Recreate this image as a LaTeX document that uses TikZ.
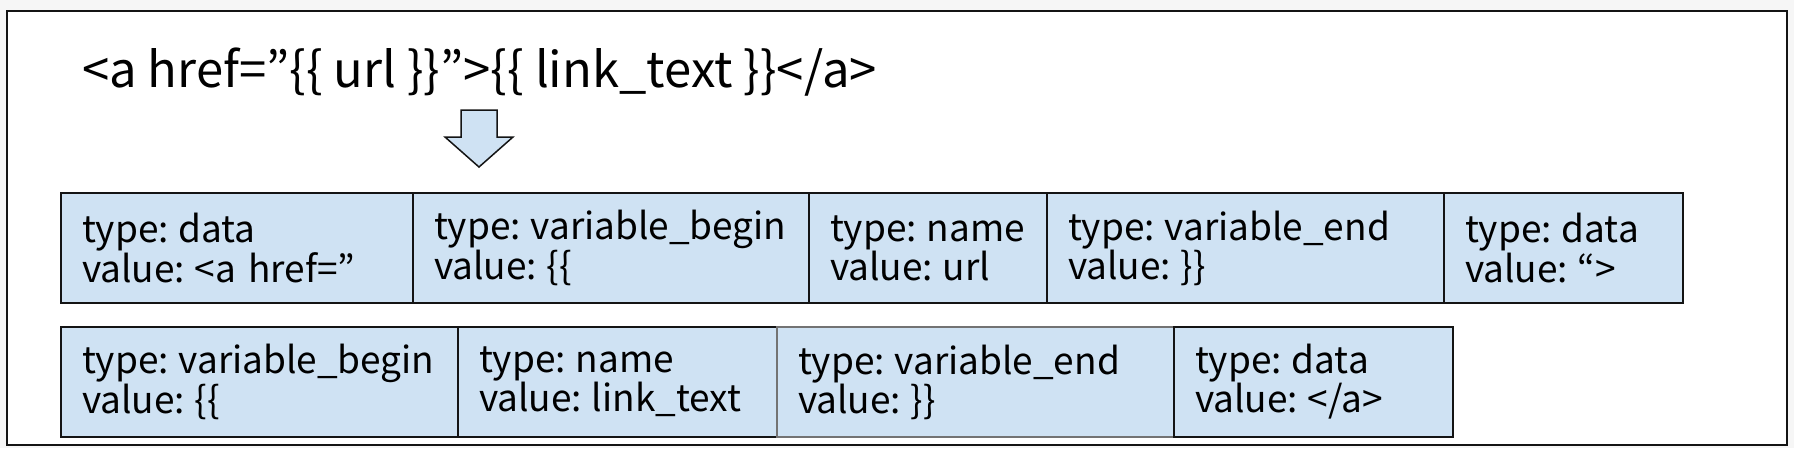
\documentclass[tikz,border=0pt]{standalone}
\usepackage{fontspec}
\newfontfamily\tokenFont{Noto Sans CJK JP}
\usetikzlibrary{positioning}
\definecolor{tokenColor}{RGB}{207,226,243}
\definecolor{lineColor}{RGB}{20,20,20}
\definecolor{softLine}{RGB}{115,115,115}
\definecolor{pageColor}{RGB}{246,246,246}
\tikzstyle{pixels} = [x = 1pt, y = -1pt]
\tikzstyle{frameStyle} = [draw=lineColor, fill=white, line width=2pt]
\tikzstyle{tokenStyle} = [draw=lineColor, fill=tokenColor, line width=1.5pt, rectangle, minimum height=110pt, inner xsep=21pt, inner ysep=0pt, outer sep=0pt, align=left, font=\tokenFont\fontsize{37}{37}\selectfont]
\tikzstyle{sourceText} = [font=\tokenFont\fontsize{49}{52}\selectfont, anchor=base west, inner sep=0pt]
\tikzstyle{arrowStyle} = [draw=lineColor, fill=tokenColor, line width=1.5pt, line join=miter]
\newcommand{\fieldSep}{:\kern-.07em\ }
% one token box: name, width, placement, type, value
\newcommand{\tokenCell}[5]{
  \pgfmathsetmacro{\textWidth}{#2 - 42}
  \node [tokenStyle, minimum width=#2pt, text width=\textWidth pt, #3] (#1)
    {\mbox{type\fieldSep #4}\\\mbox{value\fieldSep #5}};
}

\begin{document}
\begin{tikzpicture}[pixels]
  \fill [pageColor] (0,0) rectangle (1794,448);
  \useasboundingbox (0,0) rectangle (1794,448);
  \draw [frameStyle] (7,11) rectangle (1787,445);

  \node [sourceText] (source) at (82,87) {<a href=”\{\{ url \}\}”>\{\{ link\_text \}\}</a>};
  \draw [arrowStyle] (461,110) -- (497,110) -- (497,137) -- (513,137) -- (479,167) -- (445,137) -- (461,137) -- cycle;

  % first row of tokens
  \tokenCell{dataA}{352}{anchor=north west, at={(61,193)}}{data}{<a href=”}
  \tokenCell{beginA}{396}{right=0pt of dataA}{variable\_begin}{\{\{}
  \tokenCell{nameA}{238}{right=0pt of beginA}{name}{url}
  \tokenCell{endA}{397}{right=0pt of nameA}{variable\_end}{\}\}}
  \tokenCell{dataB}{239}{right=0pt of endA}{data}{“>}

  % second row of tokens
  \tokenCell{beginB}{397}{anchor=north west, at={(61,327)}}{variable\_begin}{\{\{}
  \tokenCell{nameB}{319}{right=0pt of beginB}{name}{link\_text}
  \tokenCell{endB}{397}{right=0pt of nameB, draw=softLine}{variable\_end}{\}\}}
  \tokenCell{dataC}{279}{right=0pt of endB}{data}{</a>}
\end{tikzpicture}
\end{document}
